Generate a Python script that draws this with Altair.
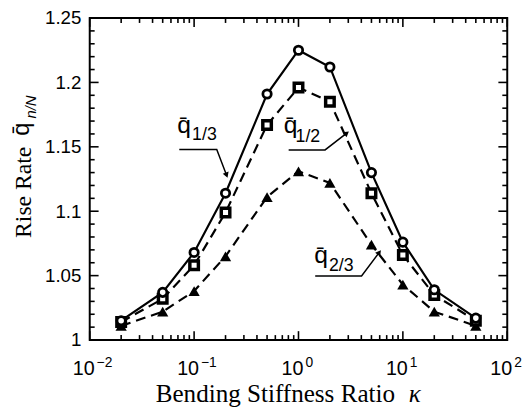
import altair as alt
import pandas as pd

# ---------------- data ----------------
kappa = [0.02, 0.05, 0.1, 0.2, 0.5, 1, 2, 5, 10, 20, 50]
q_13 = [1.015, 1.037, 1.068, 1.114, 1.191, 1.225, 1.212, 1.130, 1.076, 1.039, 1.017]
q_12 = [1.014, 1.032, 1.058, 1.099, 1.167, 1.196, 1.185, 1.114, 1.066, 1.035, 1.015]
q_23 = [1.011, 1.022, 1.038, 1.065, 1.111, 1.131, 1.122, 1.074, 1.043, 1.022, 1.011]

x_major = [0.01, 0.1, 1, 10, 100]
x_exp = ["−2", "−1", "0", "1", "2"]
y_major = [1.0, 1.05, 1.1, 1.15, 1.2, 1.25]
x_minor = [m * d for d in [0.01, 0.1, 1, 10] for m in range(2, 10)]
y_minor = [round(1 + 0.01 * i, 2) for i in range(26) if i % 5]

# annotation labels (left/baseline anchor, data units)
ann_q_x = [0.0691, 0.721, 1.416]
ann_q_y = [1.1606, 1.1606, 1.0596]
ann_sub_x = [0.0957, 0.938, 1.96]
ann_sub_y = [1.1552, 1.1537, 1.0535]
ann_sub = ["1/3", "1/2", "2/3"]
# leader lines
lead_id = ["a", "a", "a", "b", "b", "b", "c", "c", "c"]
lead_x = [0.0721, 0.1648, 0.2047, 0.805, 1.798, 2.90, 1.446, 4.02, 5.94]
lead_y = [1.148, 1.148, 1.128, 1.1476, 1.1476, 1.1606, 1.0497, 1.0497, 1.068]
arrow_x = [0.2047, 2.90, 5.94]
arrow_y = [1.128, 1.1606, 1.068]
arrow_angle = [160, 52, 37]

# ---------------- chart ----------------
W, H = 424, 327
xs = alt.Scale(type="log", domain=[0.01, 100], nice=False)
ys = alt.Scale(domain=[1, 1.25], nice=False, zero=False)

yaxis = alt.Axis(values=y_major, format=".2~f", ticks=False, domain=False, grid=False,
                 title=None, labelFont="Liberation Sans", labelFontSize=19,
                 labelColor="black", labelPadding=9, labelBaseline="middle")


def X(f):
    return alt.X(f, scale=xs, axis=None)


def Y(f):
    return alt.Y(f, scale=ys, axis=yaxis)


d13 = pd.DataFrame({"k": kappa, "q": q_13})
d12 = pd.DataFrame({"k": kappa, "q": q_12})
d23 = pd.DataFrame({"k": kappa, "q": q_23})

layers = []
layers.append(alt.Chart(d23).mark_line(color="black", strokeWidth=2.2, strokeDash=[10, 6]).encode(x=X("k:Q"), y=Y("q:Q")))
layers.append(alt.Chart(d12).mark_line(color="black", strokeWidth=2.2, strokeDash=[10, 6]).encode(x=X("k:Q"), y=Y("q:Q")))
layers.append(alt.Chart(d13).mark_line(color="black", strokeWidth=2.2).encode(x=X("k:Q"), y=Y("q:Q")))
layers.append(alt.Chart(d23).mark_point(shape="triangle-up", filled=True, color="black", size=130, opacity=1).encode(x=X("k:Q"), y=Y("q:Q")))
layers.append(alt.Chart(d12).mark_point(shape="square", filled=True, fill="white", stroke="black", strokeWidth=3.5, size=75, opacity=1).encode(x=X("k:Q"), y=Y("q:Q")))
layers.append(alt.Chart(d13).mark_point(shape="circle", filled=True, fill="white", stroke="black", strokeWidth=2.8, size=72, opacity=1).encode(x=X("k:Q"), y=Y("q:Q")))

# ticks (inward)
dxm = pd.DataFrame({"v": x_major, "e": x_exp})
dxn = pd.DataFrame({"v": x_minor})
dym = pd.DataFrame({"v": y_major})
dyn = pd.DataFrame({"v": y_minor})
for d, L in [(dxm, 9), (dxn, 5)]:
    layers.append(alt.Chart(d).mark_rule(color="black", strokeWidth=1.6).encode(x=X("v:Q"), y=alt.value(H), y2=alt.value(H - L)))
    layers.append(alt.Chart(d).mark_rule(color="black", strokeWidth=1.6).encode(x=X("v:Q"), y=alt.value(0), y2=alt.value(L)))
for d, L in [(dym, 9), (dyn, 5)]:
    layers.append(alt.Chart(d).mark_rule(color="black", strokeWidth=1.6).encode(y=Y("v:Q"), x=alt.value(0), x2=alt.value(L)))
    layers.append(alt.Chart(d).mark_rule(color="black", strokeWidth=1.6).encode(y=Y("v:Q"), x=alt.value(W), x2=alt.value(W - L)))

# x tick labels: 10 with superscript exponent
layers.append(alt.Chart(dxm).mark_text(font="Liberation Sans", fontSize=20, align="right", baseline="alphabetic", color="black", dx=5).encode(x=X("v:Q"), y=alt.value(H + 36), text=alt.value("10")))
layers.append(alt.Chart(dxm).mark_text(font="Liberation Sans", fontSize=14, align="left", baseline="alphabetic", color="black", dx=7).encode(x=X("v:Q"), y=alt.value(H + 27), text="e:N"))

# annotations
dq = pd.DataFrame({"x": ann_q_x, "y": ann_q_y, "t": ["q\u0304"] * 3})
ds = pd.DataFrame({"x": ann_sub_x, "y": ann_sub_y, "t": ann_sub})
layers.append(alt.Chart(dq).mark_text(font="Liberation Sans", fontSize=25, align="left", baseline="alphabetic", color="black").encode(x=X("x:Q"), y=Y("y:Q"), text="t:N"))
layers.append(alt.Chart(ds).mark_text(font="Liberation Sans", fontSize=18, align="left", baseline="alphabetic", color="black").encode(x=X("x:Q"), y=Y("y:Q"), text="t:N"))
dl = pd.DataFrame({"id": lead_id, "x": lead_x, "y": lead_y, "o": list(range(len(lead_x)))})
layers.append(alt.Chart(dl).mark_line(color="black", strokeWidth=1.5).encode(x=X("x:Q"), y=Y("y:Q"), detail="id:N", order="o:Q"))
da = pd.DataFrame({"x": arrow_x, "y": arrow_y, "a": arrow_angle})
layers.append(alt.Chart(da).mark_point(shape="triangle-up", filled=True, color="black", size=40, opacity=1).encode(x=X("x:Q"), y=Y("y:Q"), angle=alt.Angle("a:Q", scale=None)))

# titles
def txt(s, x, y, **kw):
    return alt.Chart(pd.DataFrame({"t": [s]})).mark_text(color="black", **kw).encode(text="t:N", x=alt.value(x), y=alt.value(y))

layers.append(txt("Bending Stiffness Ratio", 67, 390, font="Liberation Serif", fontSize=25.5, align="left", baseline="alphabetic"))
layers.append(txt("κ", 324, 390, font="Liberation Serif", fontSize=25.5, fontStyle="italic", align="left", baseline="alphabetic"))
layers.append(txt("Rise Rate", -60, 177, font="Liberation Serif", fontSize=24, angle=270, align="center", baseline="alphabetic"))
layers.append(txt("q\u0304", -62, 113, font="Liberation Sans", fontSize=24, angle=270, align="center", baseline="alphabetic"))
layers.append(txt("n/N", -55, 102, font="Liberation Sans", fontSize=15, fontStyle="italic", angle=270, align="left", baseline="alphabetic"))

chart = alt.layer(*layers).properties(
    width=W, height=H,
    autosize=alt.AutoSizeParams(type="none"),
    padding={"left": 83, "top": 7, "right": 16, "bottom": 75},
    background="white",
).configure_view(stroke="black", strokeWidth=2)

chart.save("out.html", embed_options={"renderer": "svg", "actions": False})
